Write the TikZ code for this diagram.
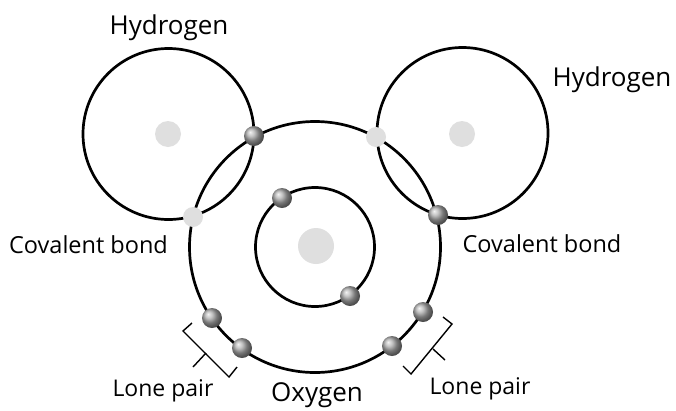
\documentclass[tikz,border=0pt]{standalone}
\usepackage{fontspec}
\setmainfont{Open Sans}
\tikzset{
    shell/.style={line width=2.7pt, black},
    nucleus/.style={circle, inner sep=0pt, fill=gray!25},
    electron/.style={circle, inner sep=0pt, minimum size=20pt, ball color=gray!65},
    paleelectron/.style={circle, inner sep=0pt, minimum size=20pt, fill=gray!25},
    bracket/.style={line width=1.4pt, black},
    label/.style={inner sep=0pt, text=black}
}

\begin{document}
\begin{tikzpicture}[x=1pt, y=-1pt]
    \useasboundingbox (0,0) rectangle (676,410);

    % ---------------- shells ----------------
    \coordinate (oxygen) at (315,247);
    \coordinate (hleft) at (168.5,134);
    \coordinate (hright) at (462.5,133);

    \draw[shell] (hleft) circle[radius=85.5];
    \draw[shell] (hright) circle[radius=85.5];
    \draw[shell] (oxygen) circle[radius=125.5];
    \draw[shell] (oxygen) circle[radius=59.5];

    % ---------------- nuclei ----------------
    \node[nucleus, minimum size=36pt] (coreO) at (316,246) {};
    \node[nucleus, minimum size=26pt] (coreHl) at (168,134) {};
    \node[nucleus, minimum size=26pt] (coreHr) at (462,134) {};

    % ---------------- electrons ----------------
    \node[electron] (bondA) at (254,136) {};
    \node[paleelectron] (bondB) at (193,217) {};
    \node[paleelectron] (bondC) at (376,137) {};
    \node[electron] (bondD) at (438,215) {};
    \node[electron] (innerA) at (282,198) {};
    \node[electron] (innerB) at (350,296) {};
    \node[electron] (loneA) at (212,318) {};
    \node[electron] (loneB) at (242,348) {};
    \node[electron] (loneC) at (423,312) {};
    \node[electron] (loneD) at (392,346) {};

    % ---------------- lone pair brackets ----------------
    \draw[bracket] (192,323) -- (183,331) -- (229,377) -- (237,367);
    \draw[bracket] (206,353) -- (193,367);
    \draw[bracket] (443,317) -- (452,324) -- (411,374) -- (403,366);
    \draw[bracket] (433,349) -- (445,360);

    % ---------------- labels ----------------
    \node[label, font=\fontsize{26}{30}\selectfont] (hydrogenA) at (169,28) {Hydrogen};
    \node[label, font=\fontsize{26}{30}\selectfont] (hydrogenB) at (612,80) {Hydrogen};
    \node[label, font=\fontsize{23.5}{28}\selectfont] (bondtextA) at (88.5,245) {Covalent bond};
    \node[label, font=\fontsize{23.5}{28}\selectfont] (bondtextB) at (542,244) {Covalent bond};
    \node[label, font=\fontsize{23}{27}\selectfont] (lonetextA) at (163,391) {Lone pair};
    \node[label, font=\fontsize{23}{27}\selectfont] (lonetextB) at (480,389) {Lone pair};
    \node[label, font=\fontsize{26}{30}\selectfont] (oxygentext) at (317,395) {Oxygen};
\end{tikzpicture}
\end{document}
